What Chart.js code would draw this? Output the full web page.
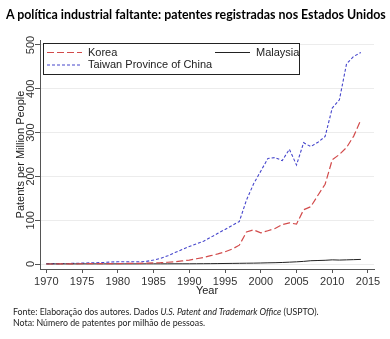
<!DOCTYPE html>
<html>
<head>
<meta charset="utf-8">
<script src="https://cdn.jsdelivr.net/npm/chart.js@4"></script>
<style>
  html, body { margin: 0; padding: 0; background: #fff; }
  #wrap { position: relative; width: 390px; height: 339px; overflow: hidden; }
  #chartBox { position: absolute; left: 0; top: 0; width: 390px; height: 339px; }
  .title { position: absolute; left: 6px; top: 7px; font: bold 12.4px Lato, sans-serif; color: #000; white-space: nowrap; }
  .note { position: absolute; left: 13px; font: 8.8px Lato, sans-serif; color: #222; white-space: nowrap; }
</style>
</head>
<body>
<div id="wrap">
  <div id="chartBox"><canvas id="patentChart"></canvas></div>
  <div class="title">A política industrial faltante: patentes registradas nos Estados Unidos</div>
  <div class="note" style="top:306px">Fonte: Elaboração dos autores. Dados <i>U.S. Patent and Trademark Office</i> (USPTO).</div>
  <div class="note" style="top:317px">Nota: Número de patentes por milhão de pessoas.</div>
</div>
<script>
// Patents granted in the US per million people
const years = [
  1970, 1971, 1972, 1973, 1974, 1975, 1976, 1977, 1978, 1979,
  1980, 1981, 1982, 1983, 1984, 1985, 1986, 1987, 1988, 1989,
  1990, 1991, 1992, 1993, 1994, 1995, 1996, 1997, 1998, 1999,
  2000, 2001, 2002, 2003, 2004, 2005, 2006, 2007, 2008, 2009,
  2010, 2011, 2012, 2013, 2014,
];
const korea = [
  0, 0, 0.3, 0.5, 0.5, 0.6, 0.7, 0.8, 1, 1,
  1, 1.2, 1.4, 1.6, 2, 2.5, 3, 4, 5, 7,
  9, 12, 15, 19, 23, 28, 34, 43, 73, 78,
  71, 76, 81, 90, 94, 91, 124, 131, 157, 182,
  238, 250, 266, 292, 329,
];
const malaysia = [
  0.2, 0.2, 0.2, 0.2, 0.2, 0.3, 0.3, 0.3, 0.3, 0.3,
  0.3, 0.3, 0.3, 0.3, 0.4, 0.4, 0.4, 0.4, 0.5, 0.5,
  0.5, 0.6, 0.7, 0.8, 1, 1.2, 1.4, 1.6, 1.8, 2,
  2.3, 2.7, 3, 3.5, 4.2, 5, 6, 7.5, 8, 8.5,
  9.5, 9, 9.5, 10, 10.5,
];
const taiwan = [
  0.5, 0.8, 1, 1.2, 1.5, 2, 2.5, 3, 3.5, 4.5,
  5, 5, 5, 5, 6, 9, 13, 19, 26, 33,
  40, 46, 52, 61, 70, 79, 88, 97, 146, 183,
  212, 241, 243, 236, 262, 226, 277, 268, 278, 291,
  356, 375, 457, 474, 483,
];
const xTicks = [1970, 1975, 1980, 1985, 1990, 1995, 2000, 2005, 2010, 2015];
const yTicks = [0, 100, 200, 300, 400, 500];

const toPoints = (vals) => vals.map((v, i) => ({ x: years[i], y: v }));

const axisFont = { family: "'Liberation Sans', Arial, sans-serif", size: 11 };

// Legend box drawn inside the plot, two columns like the original figure
const boxLegend = {
  id: "boxLegend",
  afterDatasetsDraw(chart) {
    const ctx = chart.ctx;
    const sets = chart.data.datasets;
    const slots = [
      { i: 0, x: 47, y: 52.5 },
      { i: 1, x: 215, y: 52.5 },
      { i: 2, x: 47, y: 65 },
    ];
    ctx.save();
    ctx.fillStyle = "#fff";
    ctx.fillRect(43.5, 43.5, 256, 31);
    ctx.strokeStyle = "#222";
    ctx.lineWidth = 1;
    ctx.strokeRect(43.5, 43.5, 256, 31);
    ctx.font = "11px 'Liberation Sans', Arial, sans-serif";
    ctx.textBaseline = "middle";
    slots.forEach((s) => {
      const ds = sets[s.i];
      ctx.strokeStyle = ds.borderColor;
      ctx.lineWidth = ds.borderWidth;
      ctx.setLineDash(ds.borderDash || []);
      ctx.beginPath();
      ctx.moveTo(s.x, s.y);
      ctx.lineTo(s.x + 35, s.y);
      ctx.stroke();
      ctx.setLineDash([]);
      ctx.fillStyle = "#222";
      ctx.fillText(ds.label, s.x + 41, s.y);
    });
    ctx.restore();
  },
};

// Y tick labels are written vertically, reading upward
const verticalTicks = {
  id: "verticalTicks",
  afterDraw(chart) {
    const ctx = chart.ctx;
    const y = chart.scales.y;
    ctx.save();
    ctx.font = "11px 'Liberation Sans', Arial, sans-serif";
    ctx.fillStyle = "#333";
    ctx.textAlign = "center";
    ctx.textBaseline = "middle";
    yTicks.forEach((v) => {
      ctx.save();
      ctx.translate(30.5, y.getPixelForValue(v));
      ctx.rotate(-Math.PI / 2);
      ctx.fillText(String(v), 0, 0);
      ctx.restore();
    });
    ctx.restore();
  },
};

new Chart(document.getElementById("patentChart"), {
  type: "line",
  data: {
    datasets: [
      {
        label: "Korea",
        data: toPoints(korea),
        borderColor: "#d24b4b",
        borderWidth: 1.2,
        borderDash: [7, 3],
      },
      {
        label: "Malaysia",
        data: toPoints(malaysia),
        borderColor: "#222",
        borderWidth: 1,
      },
      {
        label: "Taiwan Province of China",
        data: toPoints(taiwan),
        borderColor: "#4646cc",
        borderWidth: 1.1,
        borderDash: [3, 2],
      },
    ],
  },
  options: {
    responsive: true,
    maintainAspectRatio: false,
    animation: false,
    elements: { point: { radius: 0 }, line: { tension: 0 } },
    layout: { padding: { top: 40, right: 16, bottom: 40, left: 0 } },
    plugins: {
      legend: { display: false },
      tooltip: { enabled: false },
    },
    scales: {
      x: {
        type: "linear",
        min: 1969.12,
        max: 2015.84,
        afterBuildTicks: (s) => { s.ticks = xTicks.map((v) => ({ value: v })); },
        afterFit: (s) => { s.height = 30; },
        grid: { drawOnChartArea: false, tickLength: 4, tickColor: "#555" },
        border: { color: "#555", width: 1 },
        ticks: { color: "#333", font: axisFont, padding: 2, maxRotation: 0, callback: (v) => String(v) },
        title: { display: true, text: "Year", color: "#222", font: axisFont, padding: { top: 0, bottom: 1 } },
      },
      y: {
        min: -11.4,
        max: 511.4,
        afterBuildTicks: (s) => { s.ticks = yTicks.map((v) => ({ value: v })); },
        afterFit: (s) => { s.width = 40; },
        grid: { color: "#ececec", tickLength: 5, tickColor: "#555" },
        border: { color: "#555", width: 1 },
        ticks: { display: false },
        title: { display: true, text: "Patents per Million People", color: "#222", font: axisFont, padding: { top: 14, bottom: 0 } },
      },
    },
  },
  plugins: [boxLegend, verticalTicks],
});
</script>
</body>
</html>
